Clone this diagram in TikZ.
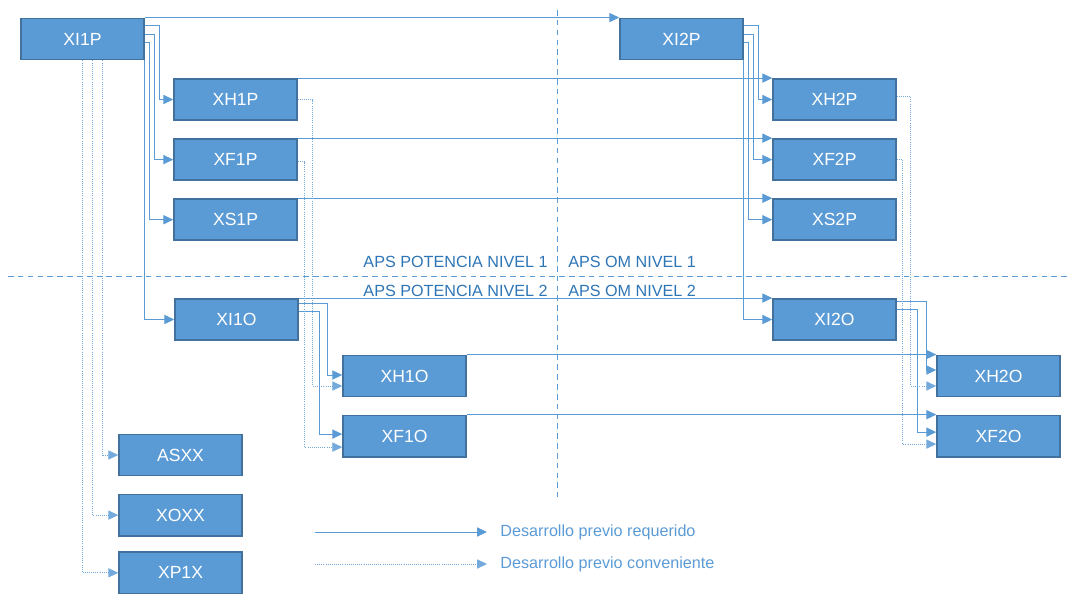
\documentclass[tikz,border=0pt]{standalone}
\usepackage{fontspec}
\setmainfont{Liberation Sans}
\usetikzlibrary{calc, positioning, arrows.meta}
\definecolor{boxblue}{RGB}{91,155,213}
\definecolor{boxedge}{RGB}{65,113,156}
\definecolor{lineblue}{RGB}{91,155,213}
\definecolor{textblue}{RGB}{46,117,182}
\def\boxwidth{3.07cm}
\def\boxheight{1.03cm}
\def\boxfont{\fontsize{12.5}{14}\selectfont}
\def\labelfont{\fontsize{11.5}{13}\selectfont}
\def\tip{Triangle[length=7pt, width=6.5pt]}
\tikzset{
% Block
block/.style={
	draw=boxedge, line width=1.2pt,
	fill=boxblue, text=white,
	minimum width=\boxwidth, minimum height=\boxheight,
	inner sep=0pt, font=\boxfont,
},
% Required development
required/.style={
	lineblue, line width=0.6pt, -{\tip},
},
% Convenient development
convenient/.style={
	lineblue!85, line width=0.5pt, densely dotted, -{\tip},
},
% Level separator
separator/.style={
	lineblue, line width=0.6pt, dash pattern=on 4pt off 3pt,
},
% Level label
levellabel/.style={
	textblue, font=\labelfont, inner sep=0pt,
},
% Legend text
legendtext/.style={
	lineblue, font=\labelfont, inner sep=0pt,
},
}

\begin{document}
\begin{tikzpicture}[x=0.025cm, y=-0.025cm, node distance=0.43cm]
		\useasboundingbox (0,0) rectangle (1071,594);

		% Components
		\node[block] (XI1P) at (82.5,39) {XI1P};
		\node[block] (XH1P) at (235.5,99.5) {XH1P};
		\node[block, below=of XH1P] (XF1P) {XF1P};
		\node[block, below=of XF1P] (XS1P) {XS1P};

		\node[block] (XI2P) at (681.5,39) {XI2P};
		\node[block] (XH2P) at (834.5,99.5) {XH2P};
		\node[block, below=of XH2P] (XF2P) {XF2P};
		\node[block, below=of XF2P] (XS2P) {XS2P};

		\node[block] (XI1O) at (236.5,319.5) {XI1O};
		\node[block] (XH1O) at (404.5,376) {XH1O};
		\node[block, below=of XH1O] (XF1O) {XF1O};

		\node[block] (XI2O) at (834.5,319.5) {XI2O};
		\node[block] (XH2O) at (998.5,376) {XH2O};
		\node[block, below=of XH2O] (XF2O) {XF2O};

		\node[block] (ASXX) at (180.5,455) {ASXX};
		\node[block, below=of ASXX] (XOXX) {XOXX};
		\node[block, below=0.37cm of XOXX] (XP1X) {XP1X};

		% Levels
		\draw[separator] (8,276) -- (1071,276);
		\draw[separator] (557,10) -- (557,497);
		\node[levellabel, anchor=base east] (pot1) at (548,267) {APS POTENCIA NIVEL 1};
		\node[levellabel, anchor=base west] (om1) at (568,267) {APS OM NIVEL 1};
		\node[levellabel, anchor=base east] (pot2) at (548,296) {APS POTENCIA NIVEL 2};
		\node[levellabel, anchor=base west] (om2) at (568,296) {APS OM NIVEL 2};

		% Connections

		% XI1P Output
		\draw[required] (XI1P.north east) -- (XI2P.north west);
		\draw[required] ($(XI1P.north east)+(0,8)$) -- ++(15,0) |- (XH1P.west);
		\draw[required] ($(XI1P.north east)+(0,17)$) -- ++(10,0) |- (XF1P.west);
		\draw[required] ($(XI1P.north east)+(0,25)$) -- ++(5,0) |- (XS1P.west);
		\draw[required] (XI1P.south east) |- (XI1O.west);
		%
		\draw[convenient] ($(XI1P.south)+(20,0)$) |- (ASXX.west);
		\draw[convenient] ($(XI1P.south)+(10,0)$) |- (XOXX.west);
		\draw[convenient] (XI1P.south) |- (XP1X.west);

		% XI2P Output
		\draw[required] ($(XI2P.north east)+(0,8)$) -- ++(15,0) |- (XH2P.west);
		\draw[required] ($(XI2P.north east)+(0,17)$) -- ++(10,0) |- (XF2P.west);
		\draw[required] ($(XI2P.north east)+(0,25)$) -- ++(5,0) |- (XS2P.west);
		\draw[required] (XI2P.south east) |- (XI2O.west);

		% Level 1 to 2
		\draw[required] (XH1P.north east) -- (XH2P.north west);
		\draw[required] (XF1P.north east) -- (XF2P.north west);
		\draw[required] (XS1P.north east) -- (XS2P.north west);

		% XI1O Output
		\draw[required] (XI1O.north east) -- (XI2O.north west);
		\draw[required] ($(XI1O.north east)+(0,5)$) -- ++(29,0) |- ($(XH1O.west)+(0,-1)$);
		\draw[required] ($(XI1O.north east)+(0,13)$) -- ++(21,0) |- ($(XF1O.west)+(0,-2)$);

		% XI2O Output
		\draw[required] ($(XI2O.north east)+(0,3)$) -- ++(30,0) |- ($(XH2O.west)+(0,-6)$);
		\draw[required] ($(XI2O.north east)+(0,11)$) -- ++(21,0) |- ($(XF2O.west)+(0,-4)$);
		\draw[required] (XH1O.north east) -- (XH2O.north west);
		\draw[required] (XF1O.north east) -- (XF2O.north west);

		% Level 1 to Level 2 (convenient)
		\draw[convenient] (XH1P.east) -- ++(15,0) |- ($(XH1O.west)+(0,10)$);
		\draw[convenient] ($(XF1P.east)+(0,2)$) -- ++(7,0) |- ($(XF1O.west)+(0,11)$);
		\draw[convenient] ($(XH2P.east)+(0,-3)$) -- ++(14,0) |- ($(XH2O.west)+(0,10)$);
		\draw[convenient] (XF2P.east) -- ++(6,0) |- ($(XF2O.west)+(0,8)$);

		% Legend
		\coordinate (reqstart) at (315,532);
		\coordinate (reqend) at (487,532);
		\coordinate (convstart) at (315,564);
		\coordinate (convend) at (487,564);
		\draw[required] (reqstart) -- (reqend);
		\draw[convenient] (convstart) -- (convend);
		\node[legendtext, right=0.33cm of reqend] (reqtext) {Desarrollo previo requerido};
		\node[legendtext, right=0.33cm of convend] (convtext) {Desarrollo previo conveniente};
	\end{tikzpicture}
\end{document}
